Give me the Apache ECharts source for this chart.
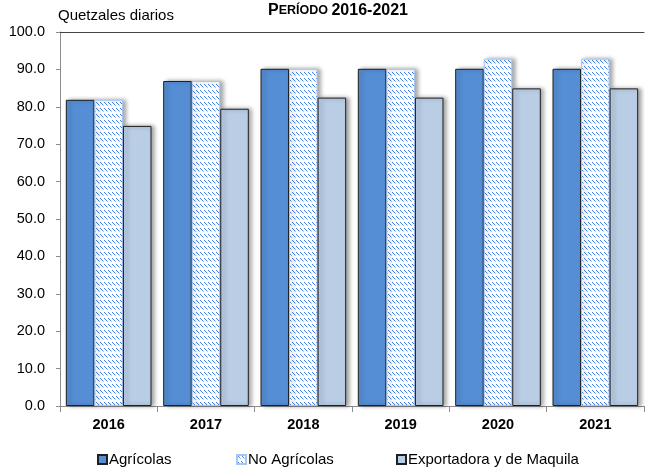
<!DOCTYPE html>
<html>
<head>
<meta charset="utf-8">
<script src="https://cdn.jsdelivr.net/npm/echarts@6/dist/echarts.min.js"></script>
<style>
  html, body { margin: 0; padding: 0; background: #fff; }
  #chart { width: 645px; height: 467px; }
</style>
</head>
<body>
<div id="chart"></div>
<script>
var years = ['2016', '2017', '2018', '2019', '2020', '2021'];
var agricolas = [81.87, 86.90, 90.16, 90.16, 90.16, 90.16];
var noAgricolas = [81.87, 86.90, 90.16, 90.16, 92.88, 92.88];
var maquila = [74.89, 79.48, 82.46, 82.46, 84.93, 84.93];
var yTicks = [0, 10, 20, 30, 40, 50, 60, 70, 80, 90, 100];
var names = ['Agrícolas', 'No Agrícolas', 'Exportadora y de Maquila'];

var font = '"Liberation Sans", Arial, sans-serif';

// trama de rayitas azules para "No Agrícolas"
function hatch() {
  var c = document.createElement('canvas');
  c.width = 4; c.height = 6;
  var ctx = c.getContext('2d');
  ctx.fillStyle = '#ffffff';
  ctx.fillRect(0, 0, 4, 6);
  ctx.fillStyle = '#3f7fe6';
  ctx.fillRect(0, 0, 1, 1);
  ctx.fillRect(1, 1, 1, 1);
  ctx.fillRect(2, 2, 1, 1);
  ctx.fillStyle = '#9dbff2';
  ctx.fillRect(3, 3, 1, 1);
  return c;
}

var chart = echarts.init(document.getElementById('chart'));

var shadow = {
  shadowColor: 'rgba(0,0,0,0.35)',
  shadowBlur: 4,
  shadowOffsetX: 3,
  shadowOffsetY: 0
};

// una leyenda por serie, como en el original (espaciado de Excel)
var legendLeft = [92, 231, 391];
var legends = names.map(function (n, i) {
  return {
    left: legendLeft[i],
    top: 447,
    itemWidth: 9,
    itemHeight: 9,
    icon: 'rect',
    textStyle: { fontFamily: font, fontSize: 15, color: '#000', padding: [0, 0, 0, -3] },
    data: [n]
  };
});

var option = {
  backgroundColor: '#ffffff',
  animation: false,
  title: [{
    text: '{a|P}{b|ERÍODO }{a|2016-2021}',
    left: 333,
    top: -2,
    textAlign: 'center',
    textStyle: {
      rich: {
        a: { fontFamily: font, fontWeight: 'bold', fontSize: 16, color: '#000' },
        b: { fontFamily: font, fontWeight: 'bold', fontSize: 12.5, color: '#000' }
      }
    }
  }, {
    text: 'Quetzales diarios',
    left: 53,
    top: 3,
    textStyle: { fontFamily: font, fontWeight: 'normal', fontSize: 15, color: '#000' }
  }],
  legend: legends,
  grid: { left: 60, right: 1, top: 32, bottom: 61 },
  xAxis: [{
    type: 'category',
    data: years,
    axisLine: { lineStyle: { color: '#8c8c8c', width: 1 } },
    axisTick: { show: true, length: 6, lineStyle: { color: '#8c8c8c' } },
    axisLabel: { fontFamily: font, fontWeight: 'bold', fontSize: 14.5, color: '#000', margin: 11 }
  }, {
    type: 'category',
    position: 'top',
    data: years,
    axisLine: { show: true, lineStyle: { color: '#444', width: 1 } },
    axisTick: { show: false },
    axisLabel: { show: false }
  }],
  yAxis: {
    type: 'value',
    min: yTicks[0],
    max: yTicks[yTicks.length - 1],
    interval: 10,
    splitLine: { show: false },
    axisLine: { show: true, lineStyle: { color: '#8c8c8c' } },
    axisTick: { show: true, length: 4, lineStyle: { color: '#8c8c8c' } },
    axisLabel: {
      fontFamily: font, fontSize: 14.5, color: '#000', margin: 15,
      formatter: function (v) { return v.toFixed(1); }
    }
  },
  series: [{
    name: names[0],
    type: 'bar',
    data: agricolas,
    barGap: '0%',
    barCategoryGap: '12%',
    itemStyle: Object.assign({ color: '#558ed5', borderColor: '#1f1f1f', borderWidth: 1 }, shadow)
  }, {
    name: names[1],
    type: 'bar',
    data: noAgricolas,
    itemStyle: Object.assign({
      color: { image: hatch(), repeat: 'repeat' },
      borderColor: '#a9c6f0',
      borderWidth: 1
    }, shadow)
  }, {
    name: names[2],
    type: 'bar',
    data: maquila,
    itemStyle: Object.assign({ color: '#b9cde5', borderColor: '#1f1f1f', borderWidth: 1 }, shadow)
  }]
};

chart.setOption(option);
</script>
</body>
</html>
